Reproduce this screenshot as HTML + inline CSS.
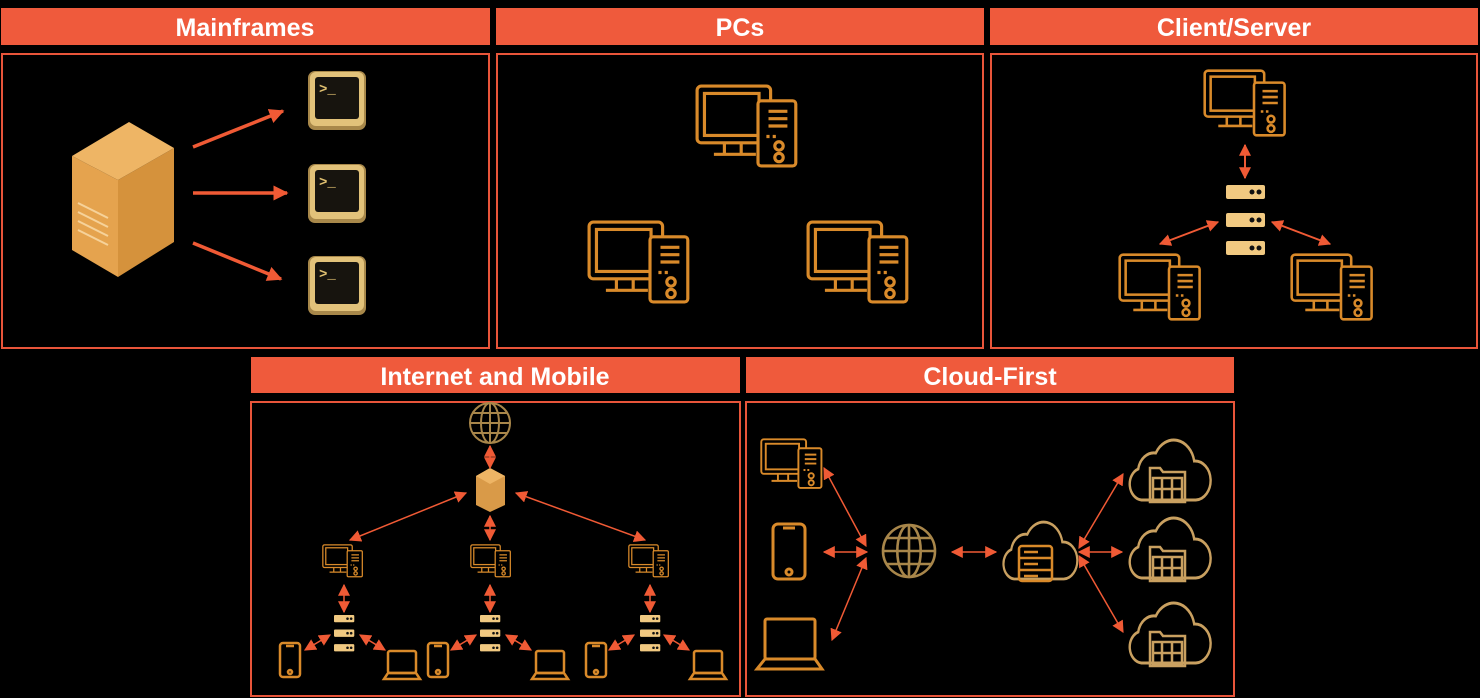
<!DOCTYPE html>
<html><head><meta charset="utf-8"><style>
html,body{margin:0;padding:0;background:#000;}
svg{display:block;}
.h{font-family:"Liberation Sans",sans-serif;font-weight:bold;font-size:25px;fill:#fff;text-anchor:middle;}
</style></head><body>
<svg width="1480" height="698" viewBox="0 0 1480 698" xmlns="http://www.w3.org/2000/svg">
<defs>
<marker id="b" viewBox="0 0 10 10" refX="9" refY="5" markerWidth="12" markerHeight="12" orient="auto-start-reverse" markerUnits="userSpaceOnUse"><path d="M0,0L10,5L0,10z" fill="#f05a35"/></marker>
<marker id="c" viewBox="0 0 10 10" refX="9" refY="5" markerWidth="15" markerHeight="15" orient="auto-start-reverse" markerUnits="userSpaceOnUse"><path d="M0,0L10,5L0,10z" fill="#f05a35"/></marker>
<g id="pc" fill="none" stroke="#d98a2a" stroke-width="3">
<rect x="2" y="2" width="70" height="54" rx="4"/>
<rect x="9" y="9" width="52" height="40"/>
<path d="M28 56v10M44 56v10M18 67h40"/>
<rect x="60" y="16" width="36" height="62" rx="3" fill="#000"/>
<path d="M70 26h18M70 33h18M70 40h18M68 50h3M74 50h3"/>
<circle cx="80" cy="59" r="4"/><circle cx="80" cy="70" r="4"/>
</g>
<g id="term">
<rect x="0" y="0" width="58" height="59" rx="7" fill="#a8884a"/>
<rect x="2" y="1" width="54" height="54" rx="6" fill="#e2c27a"/>
<rect x="7" y="6" width="44" height="42" rx="3" fill="#17140e"/>
<text x="11" y="22" font-family="Liberation Mono,monospace" font-size="14" font-weight="bold" fill="#e0c070">&gt;_</text>
</g>
<g id="stack" fill="#f1c981">
<rect x="0" y="0" width="39" height="14" rx="2"/><rect x="0" y="28" width="39" height="14" rx="2"/><rect x="0" y="56" width="39" height="14" rx="2"/>
<g fill="#111"><circle cx="26" cy="7" r="2.5"/><circle cx="33" cy="7" r="2.5"/><circle cx="26" cy="35" r="2.5"/><circle cx="33" cy="35" r="2.5"/><circle cx="26" cy="63" r="2.5"/><circle cx="33" cy="63" r="2.5"/></g>
</g>
<g id="globe" fill="none" stroke="#a8864a" stroke-width="2">
<circle cx="0" cy="0" r="20"/><ellipse cx="0" cy="0" rx="9" ry="20"/><path d="M0-20V20M-20 0H20M-17-10H17M-17 10H17"/>
</g>
<g id="phone" fill="none" stroke="#d98a2a" stroke-width="2.5">
<rect x="0" y="0" width="20" height="34" rx="3"/><path d="M6 3h8"/><circle cx="10" cy="29" r="2"/>
</g>
<g id="laptop" fill="none" stroke="#d98a2a" stroke-width="2.5">
<rect x="4" y="0" width="28" height="22" rx="2"/><path d="M0 28h36L32 22H4z"/>
</g>
<g id="cloud" fill="none" stroke="#c9a060" stroke-width="3">
<path d="M18 60a16 16 0 0 1 -4-31a20 20 0 0 1 22-16a26 26 0 0 1 48 8a18 18 0 0 1 2 39z"/>
</g>
<g id="folder" fill="none" stroke="#c9a060" stroke-width="2.5">
<path d="M0 0h10l3 4h22v30H0z"/><path d="M3 10h29v22H3zM12 10v22M22 10v22M3 21h29"/>
</g>
</defs>

<g fill="#ef5a3c">
<rect x="1" y="8" width="489" height="37"/><rect x="496" y="8" width="488" height="37"/><rect x="990" y="8" width="488" height="37"/>
<rect x="251" y="357" width="489" height="36"/><rect x="746" y="357" width="488" height="36"/>
</g>
<text class="h" x="245" y="36">Mainframes</text>
<text class="h" x="740" y="36">PCs</text>
<text class="h" x="1234" y="36">Client/Server</text>
<text class="h" x="495" y="385">Internet and Mobile</text>
<text class="h" x="990" y="385">Cloud-First</text>
<g fill="none" stroke="#e8553a" stroke-width="2">
<rect x="2" y="54" width="487" height="294"/><rect x="497" y="54" width="486" height="294"/><rect x="991" y="54" width="486" height="294"/>
<rect x="251" y="402" width="489" height="294"/><rect x="746" y="402" width="488" height="294"/>
</g>

<!-- Mainframes -->
<polygon points="72,156 118,180 118,277 72,250" fill="#e5a34e"/>
<polygon points="118,180 174,148 174,242 118,277" fill="#d5923c"/>
<polygon points="72,156 129,122 174,148 118,180" fill="#eeb565"/>
<g stroke="#f6d29a" stroke-width="2"><path d="M78 203l30 15M78 212l30 15M78 221l30 15M78 230l30 15"/></g>
<use href="#term" x="308" y="71"/><use href="#term" x="308" y="164"/><use href="#term" x="308" y="256"/>
<g stroke="#f05a35" stroke-width="3.5" marker-end="url(#c)">
<line x1="193" y1="147" x2="283" y2="111"/><line x1="193" y1="193" x2="287" y2="193"/><line x1="193" y1="243" x2="281" y2="279"/>
</g>

<!-- PCs -->
<use href="#pc" transform="translate(695,84) scale(1.05)"/>
<use href="#pc" transform="translate(587,220) scale(1.05)"/>
<use href="#pc" transform="translate(806,220) scale(1.05)"/>

<!-- Client/Server -->
<use href="#pc" transform="translate(1203,69) scale(0.85)"/>
<use href="#pc" transform="translate(1118,253) scale(0.85)"/>
<use href="#pc" transform="translate(1290,253) scale(0.85)"/>
<use href="#stack" x="1226" y="185"/>
<g stroke="#f05a35" stroke-width="2" marker-start="url(#b)" marker-end="url(#b)">
<line x1="1245" y1="145" x2="1245" y2="178"/><line x1="1218" y1="222" x2="1160" y2="244"/><line x1="1272" y1="222" x2="1330" y2="244"/>
</g>

<!-- Internet and Mobile -->
<use href="#globe" x="490" y="423"/>
<polygon points="476,476 490,468 505,476 505,505 490,512 476,505" fill="#d99a48"/>
<polygon points="476,476 490,484 505,476 490,468" fill="#eeb565"/>
<g stroke="#f05a35" stroke-width="1.5" marker-start="url(#b)" marker-end="url(#b)">
<line x1="490" y1="446" x2="490" y2="468"/><line x1="490" y1="516" x2="490" y2="540"/>
<line x1="466" y1="493" x2="350" y2="540"/><line x1="516" y1="493" x2="645" y2="540"/>
<line x1="344" y1="585" x2="344" y2="612"/><line x1="490" y1="585" x2="490" y2="612"/><line x1="650" y1="585" x2="650" y2="612"/>
</g>
<use href="#pc" transform="translate(322,544) scale(0.42)"/>
<use href="#pc" transform="translate(470,544) scale(0.42)"/>
<use href="#pc" transform="translate(628,544) scale(0.42)"/>
<use href="#stack" transform="translate(334,615) scale(0.52)"/>
<use href="#stack" transform="translate(480,615) scale(0.52)"/>
<use href="#stack" transform="translate(640,615) scale(0.52)"/>
<g stroke="#f05a35" stroke-width="1.5" marker-start="url(#b)" marker-end="url(#b)">
<line x1="330" y1="635" x2="305" y2="650"/><line x1="360" y1="635" x2="385" y2="650"/>
<line x1="476" y1="635" x2="451" y2="650"/><line x1="506" y1="635" x2="531" y2="650"/>
<line x1="634" y1="635" x2="609" y2="650"/><line x1="664" y1="635" x2="689" y2="650"/>
</g>
<use href="#phone" x="280" y="643"/><use href="#phone" x="428" y="643"/><use href="#phone" x="586" y="643"/>
<use href="#laptop" x="384" y="651"/><use href="#laptop" x="532" y="651"/><use href="#laptop" x="690" y="651"/>

<!-- Cloud-First -->
<use href="#pc" transform="translate(760,438) scale(0.64)"/>
<g fill="none" stroke="#d98a2a" stroke-width="3"><rect x="773" y="524" width="32" height="55" rx="5"/><path d="M783 528h12"/><circle cx="789" cy="572" r="3"/></g>
<g fill="none" stroke="#d98a2a" stroke-width="3"><rect x="765" y="619" width="50" height="40" rx="2"/><path d="M757 669h65L815 659H765z"/></g>
<use href="#globe" transform="translate(909,551) scale(1.3)"/>
<use href="#cloud" transform="translate(1001,522) scale(0.73,0.95)"/>
<g fill="none" stroke="#d98a2a" stroke-width="2.5"><rect x="1019" y="546" width="33" height="35" rx="3"/><path d="M1019 558h33M1019 570h33M1024 552h14M1024 564h14M1024 576h14"/></g>
<use href="#cloud" transform="translate(1127,440) scale(0.8,1)"/><use href="#cloud" transform="translate(1127,518) scale(0.8,1)"/><use href="#cloud" transform="translate(1127,603) scale(0.8,1)"/>
<use href="#folder" x="1150" y="468"/><use href="#folder" x="1150" y="547"/><use href="#folder" x="1150" y="632"/>
<g stroke="#f05a35" stroke-width="1.5" marker-start="url(#b)" marker-end="url(#b)">
<line x1="824" y1="468" x2="866" y2="546"/><line x1="824" y1="552" x2="867" y2="552"/><line x1="832" y1="640" x2="866" y2="558"/>
<line x1="952" y1="552" x2="996" y2="552"/>
<line x1="1079" y1="548" x2="1123" y2="474"/><line x1="1079" y1="552" x2="1122" y2="552"/><line x1="1079" y1="556" x2="1123" y2="632"/>
</g>
</svg>
</body></html>
